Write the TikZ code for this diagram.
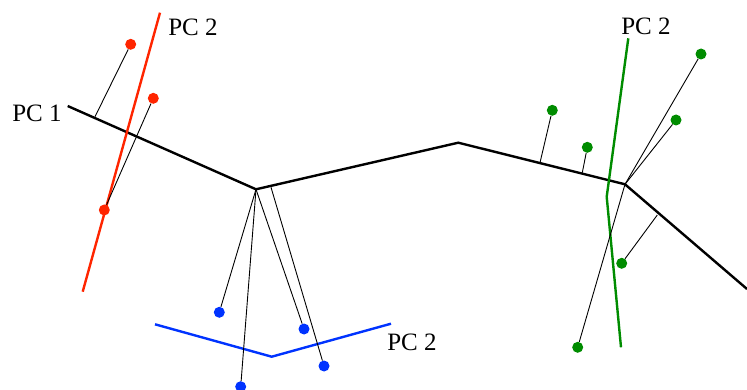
\documentclass[tikz,border=0pt]{standalone}
\usepackage{fontspec}
\setmainfont{Liberation Serif}
\definecolor{pcred}{RGB}{255,37,0}
\definecolor{pcblue}{RGB}{0,51,255}
\definecolor{pcgreen}{RGB}{0,140,0}
\begin{document}
\begin{tikzpicture}[x=1pt,y=-1pt,
  curve/.style={line width=2.4pt},
  proj/.style={line width=0.9pt, black},
  dot/.style={circle, inner sep=0pt, minimum size=11pt, fill=#1, draw=none},
  lbl/.style={inner sep=0pt, font=\fontsize{25}{30}\selectfont}]
\useasboundingbox (0,0) rectangle (747,390);

% principal curve (PC 1)
\coordinate (p0) at (67.7,106);
\coordinate (p1) at (256,189.3);
\coordinate (p2) at (458.3,142.7);
\coordinate (p3) at (625,184.3);
\coordinate (p4) at (747,289);
\draw[curve] (p0) -- (p1) -- (p2) -- (p3) -- (p4);
\node[lbl] (pc1) at (37,113) {PC 1};

% red group
\coordinate (rt) at (160,12.7);
\coordinate (rb) at (82.7,291.7);
\draw[curve, pcred] (rb) -- (rt);
\node[lbl] (pc2r) at (193,27) {PC 2};
\node[dot=pcred] (r1) at (130.7,44.3) {};
\node[dot=pcred] (r2) at (153.3,98.3) {};
\node[dot=pcred] (r3) at (104.3,210) {};
\coordinate (fr1) at (95,116.7);
\draw[proj] (r1) -- (fr1);
\draw[proj] (r2) -- (r3);

% blue group
\coordinate (ba) at (155,324.3);
\coordinate (bb) at (271.7,356.7);
\coordinate (bc) at (391,323.7);
\draw[curve, pcblue] (ba) -- (bb) -- (bc);
\node[lbl] (pc2b) at (412,342.7) {PC 2};
\node[dot=pcblue] (b1) at (219.3,312.3) {};
\node[dot=pcblue] (b2) at (304,329) {};
\node[dot=pcblue] (b3) at (324,366) {};
\node[dot=pcblue] (b4) at (240.7,386.7) {};
\coordinate (fb3) at (271,187.3);
\draw[proj] (b1) -- (p1);
\draw[proj] (b4) -- (p1);
\draw[proj] (b2) -- (p1);
\draw[proj] (b3) -- (fb3);

% green group
\coordinate (gt) at (628.3,38.3);
\coordinate (gm) at (606.7,196.7);
\coordinate (gb) at (621,347.3);
\draw[curve, pcgreen] (gt) -- (gm) -- (gb);
\node[lbl] (pc2g) at (646,26.7) {PC 2};
\node[dot=pcgreen] (g1) at (552.3,110.3) {};
\node[dot=pcgreen] (g2) at (587.3,147.3) {};
\node[dot=pcgreen] (g3) at (701,54) {};
\node[dot=pcgreen] (g4) at (676,120) {};
\node[dot=pcgreen] (g5) at (621.7,263.3) {};
\node[dot=pcgreen] (g6) at (577.7,347.3) {};
\coordinate (fg1) at (540,162.7);
\coordinate (fg2) at (582.3,172.7);
\coordinate (fg5) at (657.3,215);
\draw[proj] (g1) -- (fg1);
\draw[proj] (g2) -- (fg2);
\draw[proj] (g3) -- (p3);
\draw[proj] (g4) -- (p3);
\draw[proj] (g6) -- (p3);
\draw[proj] (g5) -- (fg5);
\end{tikzpicture}
\end{document}
